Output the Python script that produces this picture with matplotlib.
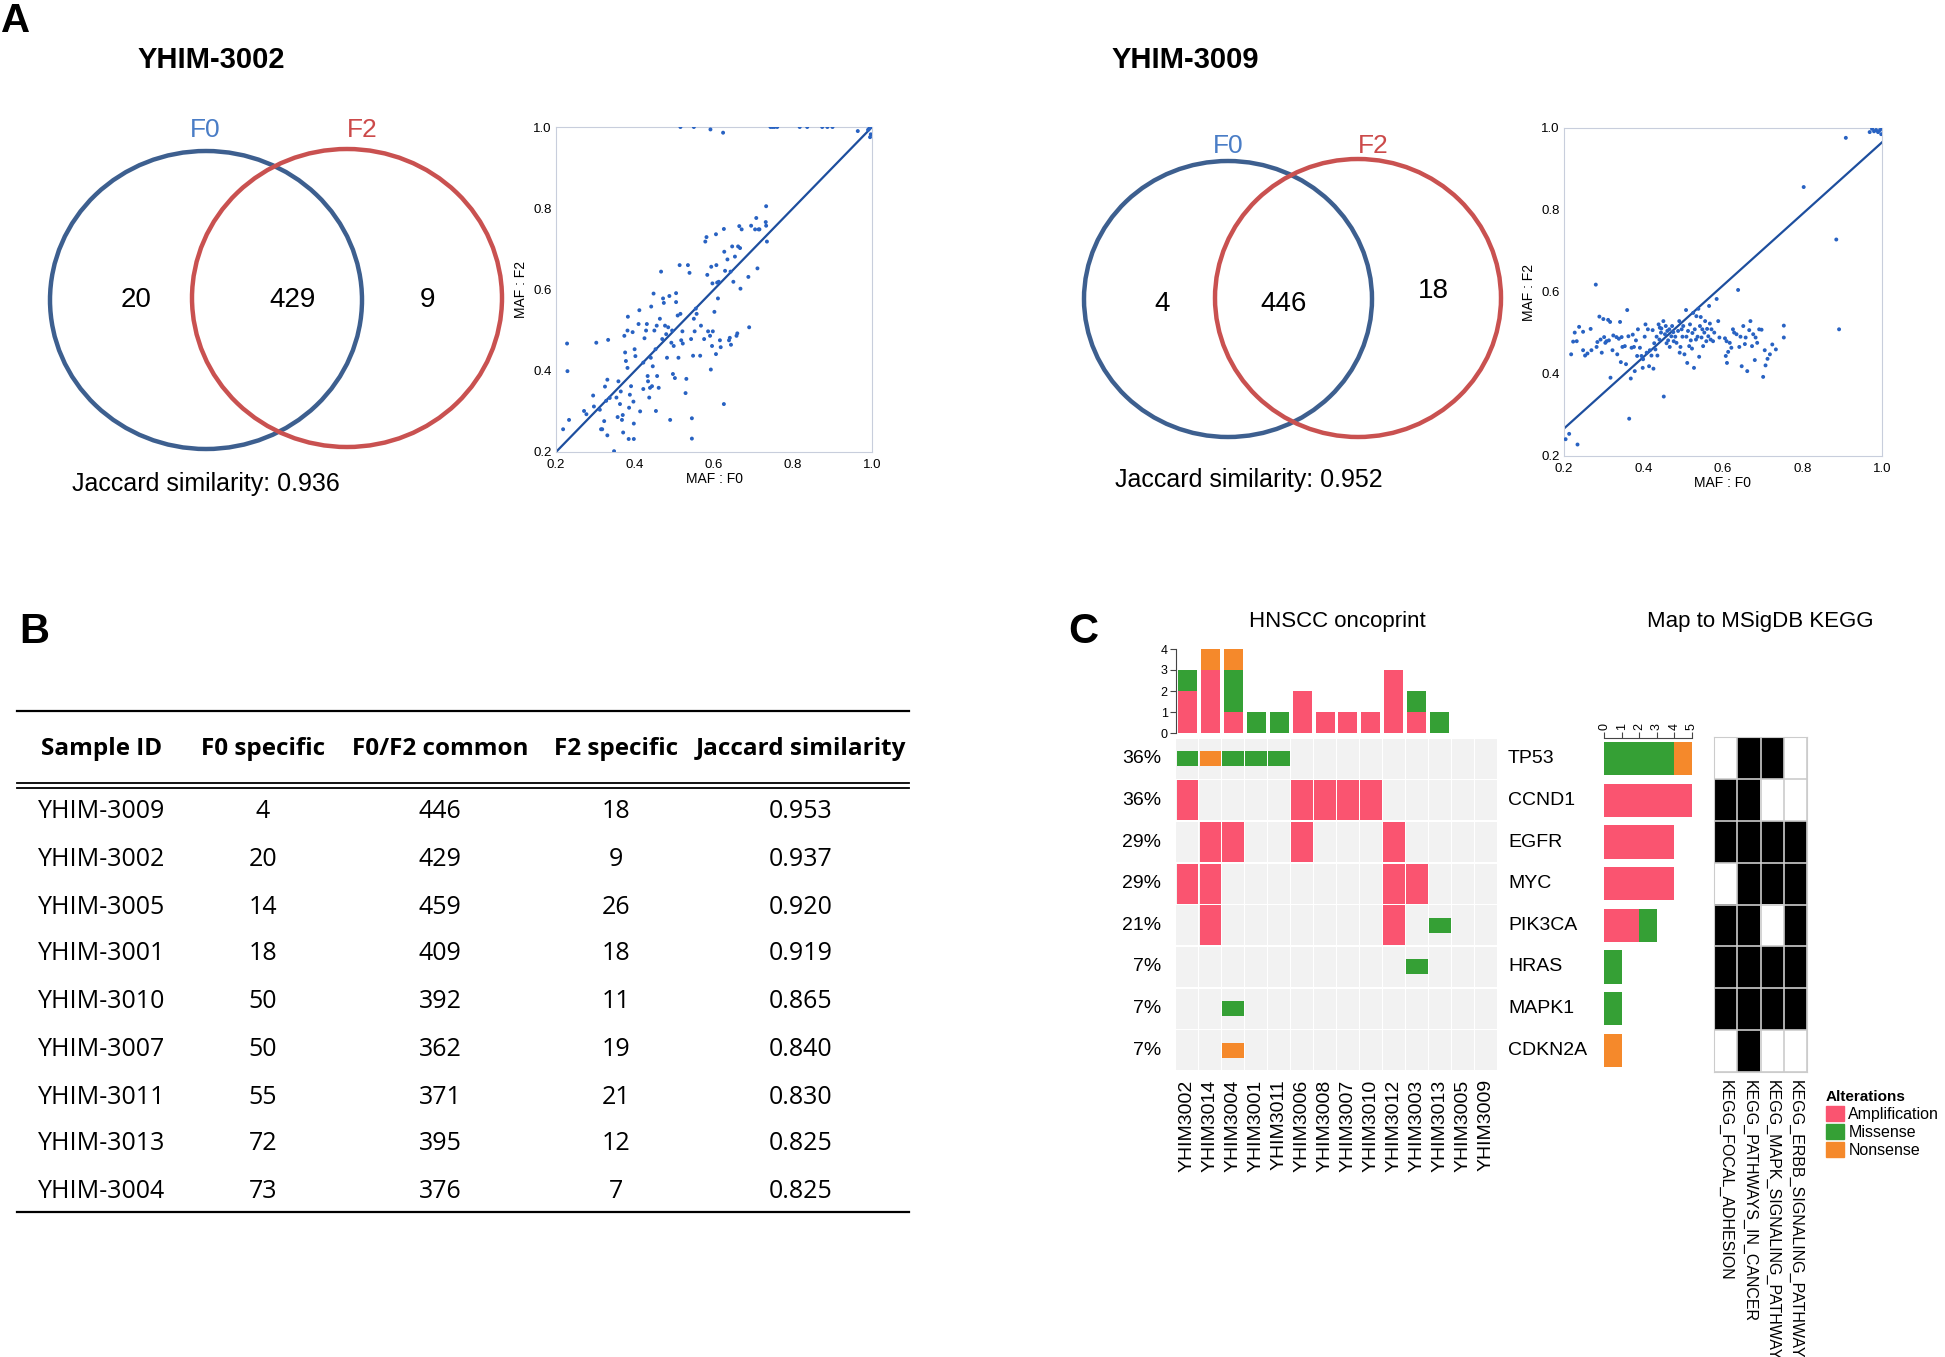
import matplotlib
matplotlib.use('Agg')
import matplotlib.pyplot as plt
from matplotlib.patches import Ellipse, Patch
from matplotlib.colors import ListedColormap

plt.rcParams['font.family'] = ['Liberation Sans', 'DejaVu Sans']

# ---------------------------------------------------------------------------
# data
# Venn counts (F0 specific, common, F2 specific) and Jaccard shown under each venn
venn_3002 = [20, 429, 9]
venn_3009 = [4, 446, 18]
jacc_3002 = 0.936
jacc_3009 = 0.952

# MAF scatter (F0, F2)
maf_3002 = [(0.218,0.256),(0.228,0.467),(0.229,0.399),(0.233,0.279),(0.271,0.301),(0.277,0.293),
            (0.294,0.339),(0.296,0.312),(0.302,0.469),(0.311,0.304),(0.314,0.256),(0.317,0.256),
            (0.322,0.276),(0.324,0.361),(0.327,0.326),(0.330,0.241),(0.330,0.378),(0.332,0.476),
            (0.336,0.333),(0.347,0.202),(0.353,0.334),(0.356,0.286),(0.358,0.374),(0.362,0.318),
            (0.364,0.349),(0.367,0.279),(0.369,0.291),(0.370,0.248),(0.373,0.486),(0.375,0.445),
            (0.377,0.424),(0.381,0.407),(0.381,0.499),(0.382,0.533),(0.384,0.232),(0.385,0.309),
            (0.387,0.341),(0.390,0.362),(0.394,0.495),(0.396,0.324),(0.397,0.232),(0.397,0.270),
            (0.399,0.453),(0.401,0.436),(0.409,0.515),(0.411,0.549),(0.413,0.300),(0.421,0.355),
            (0.421,0.420),(0.424,0.480),(0.428,0.499),(0.430,0.515),(0.432,0.387),(0.433,0.374),
            (0.436,0.334),(0.438,0.358),(0.440,0.432),(0.441,0.558),(0.443,0.362),(0.445,0.411),
            (0.447,0.590),(0.449,0.499),(0.452,0.453),(0.453,0.301),(0.455,0.511),(0.456,0.387),
            (0.460,0.358),(0.463,0.528),(0.466,0.644),(0.469,0.478),(0.471,0.578),(0.473,0.567),
            (0.476,0.511),(0.479,0.490),(0.481,0.432),(0.484,0.507),(0.487,0.584),(0.489,0.279),
            (0.492,0.469),(0.494,0.499),(0.496,0.392),(0.498,0.461),(0.501,0.382),(0.504,0.591),
            (0.504,0.569),(0.508,0.536),(0.510,0.432),(0.513,0.660),(0.515,0.540),(0.517,0.475),
            (0.520,0.497),(0.521,0.467),(0.528,0.345),(0.530,0.380),(0.534,0.660),(0.538,0.641),
            (0.542,0.478),(0.544,0.283),(0.544,0.233),(0.547,0.437),(0.549,0.528),(0.551,0.497),
            (0.554,0.553),(0.556,0.540),(0.565,0.437),(0.567,0.511),(0.575,0.478),(0.578,0.718),
            (0.581,0.729),(0.583,0.636),(0.585,0.497),(0.590,0.486),(0.592,0.403),(0.593,0.656),
            (0.595,0.461),(0.596,0.615),(0.597,0.497),(0.601,0.545),(0.605,0.441),(0.605,0.736),
            (0.606,0.660),(0.608,0.617),(0.610,0.578),(0.612,0.619),(0.615,0.475),(0.617,0.458),
            (0.625,0.749),(0.625,0.318),(0.626,0.693),(0.628,0.646),(0.634,0.674),(0.638,0.475),
            (0.640,0.481),(0.642,0.644),(0.643,0.464),(0.646,0.706),(0.649,0.619),(0.653,0.681),
            (0.657,0.486),(0.659,0.492),(0.661,0.706),(0.664,0.756),(0.666,0.702),(0.667,0.602),
            (0.670,0.748),(0.687,0.631),(0.689,0.507),(0.694,0.757),(0.704,0.748),(0.707,0.776),
            (0.710,0.652),(0.713,0.748),(0.715,0.748),(0.731,0.766),(0.732,0.805),(0.732,0.757),
            (0.734,0.718),(0.515,1.000),(0.549,1.000),(0.591,0.994),(0.623,0.986),(0.743,1.000),
            (0.748,1.000),(0.753,1.000),(0.760,1.000),(0.817,1.000),(0.836,1.000),(0.874,1.000),
            (0.887,1.000),(0.900,1.000),(0.964,0.990),(0.993,0.996),(0.995,0.975),(0.997,0.982),
            (1.000,1.000),(0.990,0.993)]

maf_3009 = [(0.204,0.241),(0.213,0.254),(0.234,0.228),(0.218,0.448),(0.223,0.479),(0.227,0.501),
            (0.232,0.480),(0.238,0.515),(0.248,0.503),(0.248,0.458),(0.253,0.445),(0.259,0.450),
            (0.269,0.458),(0.267,0.510),(0.280,0.618),(0.282,0.466),(0.284,0.478),(0.289,0.540),
            (0.292,0.484),(0.295,0.452),(0.299,0.534),(0.301,0.490),(0.304,0.476),(0.307,0.480),
            (0.311,0.532),(0.313,0.482),(0.316,0.527),(0.317,0.391),(0.322,0.458),(0.324,0.494),
            (0.332,0.490),(0.334,0.448),(0.338,0.486),(0.341,0.527),(0.343,0.429),(0.345,0.490),
            (0.347,0.466),(0.353,0.468),(0.356,0.424),(0.359,0.556),(0.362,0.492),(0.364,0.291),
            (0.368,0.389),(0.370,0.464),(0.373,0.496),(0.376,0.466),(0.378,0.407),(0.381,0.482),
            (0.384,0.444),(0.386,0.509),(0.391,0.464),(0.395,0.444),(0.398,0.415),(0.399,0.436),
            (0.403,0.491),(0.405,0.521),(0.408,0.452),(0.411,0.509),(0.414,0.419),(0.416,0.458),
            (0.420,0.445),(0.423,0.507),(0.425,0.413),(0.427,0.475),(0.430,0.460),(0.433,0.491),
            (0.435,0.445),(0.438,0.521),(0.440,0.484),(0.441,0.513),(0.444,0.501),(0.445,0.511),
            (0.450,0.529),(0.451,0.345),(0.454,0.497),(0.456,0.517),(0.458,0.475),(0.460,0.505),
            (0.462,0.482),(0.465,0.509),(0.466,0.466),(0.470,0.492),(0.472,0.517),(0.475,0.502),
            (0.476,0.480),(0.480,0.491),(0.483,0.476),(0.487,0.505),(0.490,0.529),(0.491,0.452),
            (0.493,0.466),(0.496,0.509),(0.498,0.491),(0.500,0.517),(0.503,0.448),(0.507,0.556),
            (0.508,0.491),(0.510,0.427),(0.512,0.505),(0.515,0.468),(0.517,0.521),(0.519,0.482),
            (0.522,0.462),(0.523,0.500),(0.525,0.549),(0.527,0.415),(0.529,0.509),(0.532,0.484),
            (0.533,0.541),(0.536,0.491),(0.538,0.559),(0.540,0.442),(0.542,0.517),(0.544,0.539),
            (0.546,0.489),(0.548,0.509),(0.550,0.468),(0.553,0.501),(0.555,0.529),(0.558,0.480),
            (0.560,0.510),(0.563,0.492),(0.565,0.566),(0.567,0.523),(0.569,0.484),(0.571,0.509),
            (0.575,0.480),(0.578,0.501),(0.584,0.583),(0.588,0.529),(0.591,0.489),(0.605,0.487),
            (0.607,0.444),(0.609,0.480),(0.610,0.427),(0.613,0.454),(0.617,0.476),(0.621,0.464),
            (0.625,0.509),(0.628,0.501),(0.634,0.497),(0.638,0.605),(0.641,0.466),(0.644,0.491),
            (0.647,0.419),(0.651,0.517),(0.655,0.473),(0.657,0.489),(0.661,0.407),(0.666,0.507),
            (0.669,0.529),(0.673,0.468),(0.676,0.497),(0.680,0.434),(0.682,0.489),(0.686,0.476),
            (0.691,0.509),(0.697,0.508),(0.701,0.393),(0.705,0.458),(0.707,0.421),(0.712,0.437),
            (0.718,0.448),(0.724,0.472),(0.733,0.460),(0.753,0.489),(0.753,0.518),(0.803,0.856),
            (0.885,0.728),(0.892,0.509),(0.909,0.976),(0.969,0.990),(0.980,0.992),(0.985,0.995),
            (0.990,0.990),(0.995,0.995),(0.975,0.998),(1.000,1.000),(0.998,0.985)]

# fitted line end points (x = 0.2 and 1.0)
fit_x = [0.2, 1.0]
fit_3002 = [0.2, 1.0]
fit_3009 = [0.267, 0.965]

# table B
sample_ids = ['YHIM-3009', 'YHIM-3002', 'YHIM-3005', 'YHIM-3001', 'YHIM-3010',
              'YHIM-3007', 'YHIM-3011', 'YHIM-3013', 'YHIM-3004']
f0_specific = [4, 20, 14, 18, 50, 50, 55, 72, 73]
f0f2_common = [446, 429, 459, 409, 392, 362, 371, 395, 376]
f2_specific = [18, 9, 26, 18, 11, 19, 21, 12, 7]
jaccard = [0.953, 0.937, 0.920, 0.919, 0.865, 0.840, 0.830, 0.825, 0.825]
headers = ['Sample ID', 'F0 specific', 'F0/F2 common', 'F2 specific', 'Jaccard similarity']

# oncoprint C  (A = amplification, M = missense, N = nonsense)
samples = ['YHIM3002', 'YHIM3014', 'YHIM3004', 'YHIM3001', 'YHIM3011', 'YHIM3006', 'YHIM3008',
           'YHIM3007', 'YHIM3010', 'YHIM3012', 'YHIM3003', 'YHIM3013', 'YHIM3005', 'YHIM3009']
genes = ['TP53', 'CCND1', 'EGFR', 'MYC', 'PIK3CA', 'HRAS', 'MAPK1', 'CDKN2A']
alts = [
    ['M', 'N', 'M', 'M', 'M', '', '', '', '', '', '', '', '', ''],
    ['A', '', '', '', '', 'A', 'A', 'A', 'A', '', '', '', '', ''],
    ['', 'A', 'A', '', '', 'A', '', '', '', 'A', '', '', '', ''],
    ['A', 'A', '', '', '', '', '', '', '', 'A', 'A', '', '', ''],
    ['', 'A', '', '', '', '', '', '', '', 'A', '', 'M', '', ''],
    ['', '', '', '', '', '', '', '', '', '', 'M', '', '', ''],
    ['', '', 'M', '', '', '', '', '', '', '', '', '', '', ''],
    ['', '', 'N', '', '', '', '', '', '', '', '', '', '', ''],
]
kegg_sets = ['KEGG_FOCAL_ADHESION', 'KEGG_PATHWAYS_IN_CANCER',
             'KEGG_MAPK_SIGNALING_PATHWAY', 'KEGG_ERBB_SIGNALING_PATHWAY']
kegg = [[0, 1, 1, 0],
        [1, 1, 0, 0],
        [1, 1, 1, 1],
        [0, 1, 1, 1],
        [1, 1, 0, 1],
        [1, 1, 1, 1],
        [1, 1, 1, 1],
        [0, 1, 0, 0]]

AMP, MIS, NON = '#FA5470', '#35A035', '#F5892B'
alt_col = {'A': AMP, 'M': MIS, 'N': NON}

# ---------------------------------------------------------------------------
W, H = 1945, 1357
fig = plt.figure(figsize=(W / 100, H / 100), dpi=100)


def px_axes(x0, y0, x1, y1):
    return fig.add_axes([x0 / W, 1 - y1 / H, (x1 - x0) / W, (y1 - y0) / H])


ov = fig.add_axes([0, 0, 1, 1])
ov.set_xlim(0, W)
ov.set_ylim(H, 0)
ov.axis('off')

# panel letters
ov.text(1, 2, 'A', fontsize=29, weight='bold', va='top')
ov.text(19, 612, 'B', fontsize=30, weight='bold', va='top')
ov.text(1068, 612, 'C', fontsize=30, weight='bold', va='top')

# ---------------------------------------------------------------------------
# A : venn + scatter
BLUE_RING, RED_RING = '#3D5F8F', '#C95150'


def venn(title, tx, counts, jac, c0, c1, lab0, lab1, num_pos, jpos):
    ov.text(tx, 60, title, fontsize=21, weight='bold', ha='center', va='center')
    ov.add_patch(Ellipse(c0[:2], 2 * c0[2], 2 * c0[3], fill=False, ec=BLUE_RING, lw=3.2))
    ov.add_patch(Ellipse(c1[:2], 2 * c1[2], 2 * c1[3], fill=False, ec=RED_RING, lw=3.2))
    ov.text(lab0[0], lab0[1], 'F0', color='#4A7DC6', fontsize=19, ha='center', va='center')
    ov.text(lab1[0], lab1[1], 'F2', color='#CC4A4A', fontsize=19, ha='center', va='center')
    for (x, y), n in zip(num_pos, counts):
        ov.text(x, y, str(n), fontsize=20, ha='center', va='center')
    ov.text(jpos[0], jpos[1], f'Jaccard similarity: {jac}', fontsize=18, ha='center', va='center')


venn('YHIM-3002', 211, venn_3002, jacc_3002,
     (206, 300, 156, 149), (347, 298, 155, 149), (205, 130), (362, 130),
     [(136, 300), (293, 300), (428, 300)], (206, 484))
venn('YHIM-3009', 1185, venn_3009, jacc_3009,
     (1228, 299, 144, 138), (1358, 298, 143, 139), (1228, 146), (1373, 146),
     [(1162, 304), (1284, 304), (1433, 291)], (1249, 480))


def maf_scatter(ax, pts, fit_y):
    x, y = zip(*pts)
    ax.scatter(x, y, s=8, color='#2862C2', edgecolors='none', zorder=3)
    ax.plot(fit_x, fit_y, color='#1D4E9E', lw=1.6, zorder=2)
    ax.set_xlim(0.2, 1.0)
    ax.set_ylim(0.2, 1.0)
    ticks = [0.2, 0.4, 0.6, 0.8, 1.0]
    ax.set_xticks(ticks, [f'{t:.1f}' for t in ticks])
    ax.set_yticks(ticks, [f'{t:.1f}' for t in ticks])
    ax.tick_params(length=0, labelsize=9.5)
    ax.tick_params(axis='x', pad=5)
    ax.tick_params(axis='y', pad=3)
    for s in ax.spines.values():
        s.set_color('#C8CEDC')
    ax.set_xlabel('MAF : F0', fontsize=10, labelpad=1)
    ax.set_ylabel('MAF : F2', fontsize=10, labelpad=4)


maf_scatter(px_axes(556, 127, 872, 452), maf_3002, fit_3002)
maf_scatter(px_axes(1564, 128, 1882, 456), maf_3009, fit_3009)

# ---------------------------------------------------------------------------
# B : table
tfont = ['Open Sans', 'DejaVu Sans']
col_x = [102, 263, 440, 616, 801]
row_y = [811, 860, 907, 954, 1001, 1049, 1097, 1144, 1191]
ov.plot([17, 909], [711, 711], color='black', lw=1.6)
ov.plot([17, 909], [783, 783], color='black', lw=1.3)
ov.plot([17, 909], [788, 788], color='black', lw=1.3)
ov.plot([17, 909], [1212, 1212], color='black', lw=1.6)
for x, h in zip(col_x, headers):
    ov.text(x, 749, h, family=tfont, fontsize=17.5, weight='bold', ha='center', va='center')
for i, y in enumerate(row_y):
    vals = [sample_ids[i], f0_specific[i], f0f2_common[i], f2_specific[i], f'{jaccard[i]:.3f}']
    for x, v in zip(col_x, vals):
        ov.text(x, y, str(v), family=tfont, fontsize=18, ha='center', va='center')

# ---------------------------------------------------------------------------
# C : oncoprint
ov.text(1337, 622, 'HNSCC oncoprint', fontsize=16, ha='center', va='center')
ov.text(1760, 622, 'Map to MSigDB KEGG', fontsize=16, ha='center', va='center')

n_s, n_g = len(samples), len(genes)
onc = px_axes(1176, 738, 1497, 1071)
for g in range(n_g):
    onc.bar(range(n_s), 0.96, bottom=g - 0.48, width=0.96, color='#F2F2F2')
    for s, a in enumerate(alts[g]):
        if a == 'A':
            onc.bar(s, 0.96, bottom=g - 0.48, width=0.95, color=AMP)
        elif a:
            onc.bar(s, 0.36, bottom=g - 0.18, width=0.95, color=alt_col[a])
    pct = round(100 * sum(1 for a in alts[g] if a) / n_s)
    onc.text(-1.15, g, f'{pct}%', fontsize=14, ha='right', va='center')
    onc.text(n_s - 0.02, g, genes[g], fontsize=14, ha='left', va='center')
onc.set_xlim(-0.5, n_s - 0.5)
onc.set_ylim(n_g - 0.5, -0.5)
onc.set_xticks(range(n_s), samples, rotation=90, fontsize=14)
onc.set_yticks([])
onc.tick_params(length=0, pad=6)
for s in onc.spines.values():
    s.set_visible(False)

# top stacked counts per sample
amp_s = [sum(alts[g][s] == 'A' for g in range(n_g)) for s in range(n_s)]
mis_s = [sum(alts[g][s] == 'M' for g in range(n_g)) for s in range(n_s)]
non_s = [sum(alts[g][s] == 'N' for g in range(n_g)) for s in range(n_s)]
top = px_axes(1176, 649, 1497, 733)
xs = range(n_s)
top.bar(xs, amp_s, width=0.83, color=AMP)
top.bar(xs, mis_s, bottom=amp_s, width=0.83, color=MIS)
top.bar(xs, non_s, bottom=[a + m for a, m in zip(amp_s, mis_s)], width=0.83, color=NON)
top.set_xlim(-0.5, n_s - 0.5)
top.set_ylim(0, 4)
top.set_yticks([0, 1, 2, 3, 4])
top.set_xticks([])
top.tick_params(axis='y', labelsize=9, length=4, pad=2, color='#444444')
for k in ['top', 'right', 'bottom']:
    top.spines[k].set_visible(False)
top.spines['left'].set_color('#444444')

# right stacked counts per gene
amp_g = [r.count('A') for r in alts]
mis_g = [r.count('M') for r in alts]
non_g = [r.count('N') for r in alts]
rb = px_axes(1604, 738, 1692, 1071)
ys = range(n_g)
rb.barh(ys, amp_g, height=0.8, color=AMP)
rb.barh(ys, mis_g, left=amp_g, height=0.8, color=MIS)
rb.barh(ys, non_g, left=[a + m for a, m in zip(amp_g, mis_g)], height=0.8, color=NON)
rb.set_xlim(0, 5)
rb.set_ylim(n_g - 0.5, -0.5)
rb.xaxis.tick_top()
rb.set_xticks([0, 1, 2, 3, 4, 5])
rb.tick_params(axis='x', labelsize=9, length=4, pad=2, labelrotation=90, color='#444444')
rb.set_yticks([])
for k in ['bottom', 'right', 'left']:
    rb.spines[k].set_visible(False)
rb.spines['top'].set_color('#444444')

# KEGG membership matrix
km = px_axes(1714, 737, 1807, 1072)
km.imshow(kegg, cmap=ListedColormap(['white', 'black']), vmin=0, vmax=1, aspect='auto',
          interpolation='nearest')
for i in range(len(kegg_sets) + 1):
    km.axvline(i - 0.5, color='#CCCCCC', lw=1.2)
for i in range(n_g + 1):
    km.axhline(i - 0.5, color='#CCCCCC', lw=1.2)
km.set_xticks(range(len(kegg_sets)), kegg_sets, rotation=-90, fontsize=11.5)
km.set_yticks([])
km.tick_params(length=0, pad=6)
for s in km.spines.values():
    s.set_color('#CCCCCC')

handles = [Patch(color=AMP, label='Amplification'), Patch(color=MIS, label='Missense'),
           Patch(color=NON, label='Nonsense')]
fig.legend(handles=handles, title='Alterations', loc='upper left',
           bbox_to_anchor=(1826 / W, 1 - 1090 / H), frameon=False, fontsize=11.5,
           title_fontproperties={'weight': 'bold', 'size': 11}, alignment='left',
           handlelength=1.1, handleheight=1.1, handletextpad=0.3, labelspacing=0.12,
           borderaxespad=0, borderpad=0)

fig.savefig('out.png', dpi=100)
